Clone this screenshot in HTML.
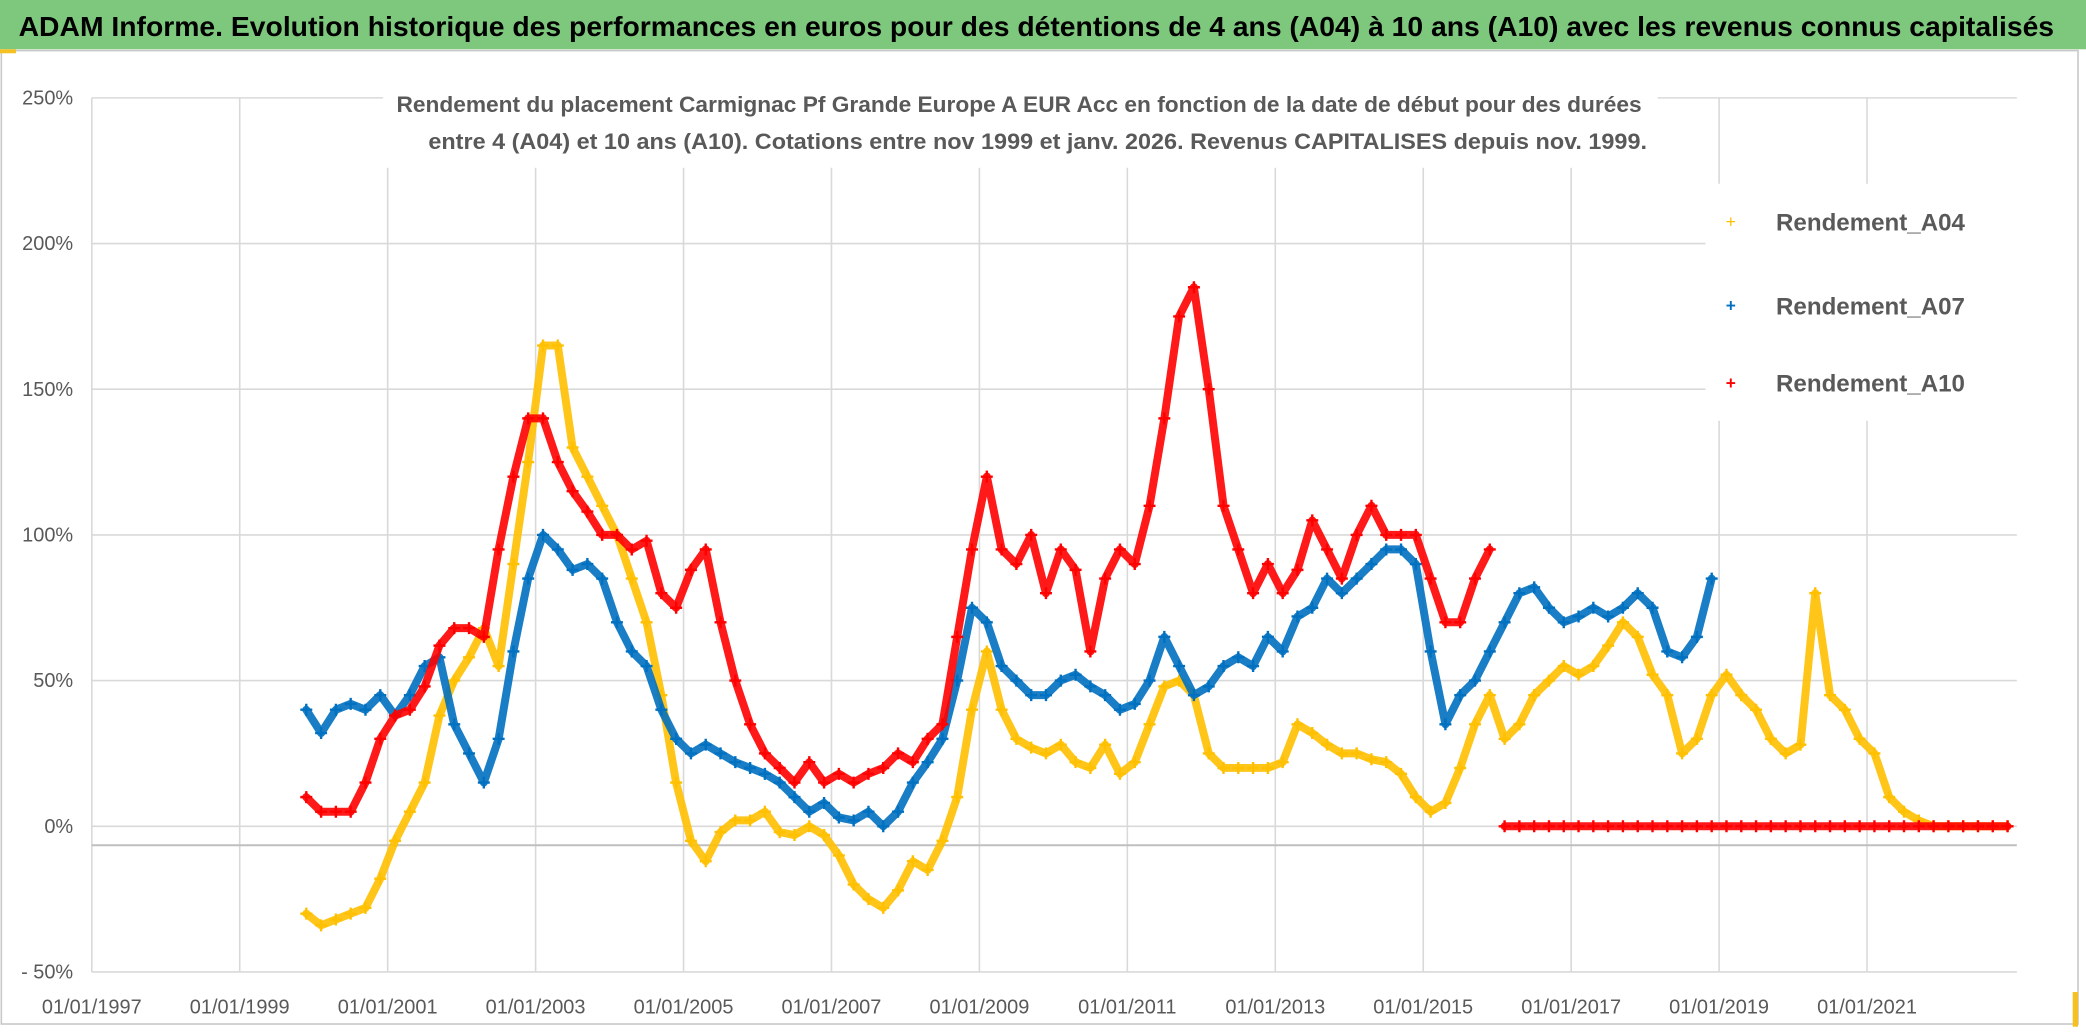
<!DOCTYPE html>
<html><head><meta charset="utf-8"><style>
html,body{margin:0;padding:0;background:#fff;overflow:hidden}
svg{display:block}
text{font-family:"Liberation Sans",sans-serif}
</style></head><body>
<svg id="chart" width="2086" height="1032" viewBox="0 0 1568 775" preserveAspectRatio="none" xmlns="http://www.w3.org/2000/svg">
<rect x="0" y="0" width="1568" height="775" fill="#ffffff"/>
<rect x="0" y="0" width="1568" height="37" fill="#7ec87e"/>
<text x="779" y="27" text-anchor="middle" font-size="21" font-weight="bold" fill="#000" textLength="1530" lengthAdjust="spacingAndGlyphs">ADAM Informe. Evolution historique des performances en euros pour des détentions de 4 ans (A04) à 10 ans (A10) avec les revenus connus capitalisés</text>
<rect x="1" y="38" width="1561" height="731" fill="none" stroke="#c8c8c8" stroke-width="1.2"/>
<rect x="0" y="37" width="12" height="3" fill="#f5c022"/>
<rect x="1558" y="745" width="4" height="26" fill="#f5c022"/>
<g id="grid"></g>
<g id="series"></g>
<g id="axes"></g>
<rect x="288" y="60" width="958" height="66" fill="#fff"/>
<text x="766" y="84" text-anchor="middle" font-size="17" font-weight="bold" fill="#595959" textLength="936" lengthAdjust="spacingAndGlyphs">Rendement du placement Carmignac Pf Grande Europe A EUR Acc en fonction de la date de début pour des durées</text>
<text x="780" y="112" text-anchor="middle" font-size="17" font-weight="bold" fill="#595959" textLength="916" lengthAdjust="spacingAndGlyphs">entre 4 (A04) et 10 ans (A10). Cotations entre nov 1999 et janv. 2026. Revenus CAPITALISES depuis nov. 1999.</text>
<g>
<rect x="1282" y="138" width="266" height="178" fill="#fff"/>
<g><text x="1301" y="171" font-size="13" fill="#ffc000" text-anchor="middle">+</text><text x="1335" y="173" font-size="18" font-weight="bold" fill="#595959" textLength="142" lengthAdjust="spacingAndGlyphs">Rendement_A04</text></g>
<g><text x="1301" y="234" font-size="13" fill="#0070c0" text-anchor="middle" font-weight="bold">+</text><text x="1335" y="236" font-size="18" font-weight="bold" fill="#595959" textLength="142" lengthAdjust="spacingAndGlyphs">Rendement_A07</text></g>
<g><text x="1301" y="292" font-size="13" fill="#ff0000" text-anchor="middle" font-weight="bold">+</text><text x="1335" y="294" font-size="18" font-weight="bold" fill="#595959" textLength="142" lengthAdjust="spacingAndGlyphs">Rendement_A10</text></g>
</g>
</svg>
<script>
const xTickLabels=["01/01/1997","01/01/1999","01/01/2001","01/01/2003","01/01/2005","01/01/2007","01/01/2009","01/01/2011","01/01/2013","01/01/2015","01/01/2017","01/01/2019","01/01/2021"];
const xTickYears=[1997,1999,2001,2003,2005,2007,2009,2011,2013,2015,2017,2019,2021];
const yTicks=[-50,0,50,100,150,200,250];
const yTickLabels=["- 50%","0%","50%","100%","150%","200%","250%"];
const dates=[1999.9,2000.1,2000.3,2000.5,2000.7,2000.9,2001.1,2001.3,2001.5,2001.7,2001.9,2002.1,2002.3,2002.5,2002.7,2002.9,2003.1,2003.3,2003.5,2003.7,2003.9,2004.1,2004.3,2004.5,2004.7,2004.9,2005.1,2005.3,2005.5,2005.7,2005.9,2006.1,2006.3,2006.5,2006.7,2006.9,2007.1,2007.3,2007.5,2007.7,2007.9,2008.1,2008.3,2008.5,2008.7,2008.9,2009.1,2009.3,2009.5,2009.7,2009.9,2010.1,2010.3,2010.5,2010.7,2010.9,2011.1,2011.3,2011.5,2011.7,2011.9,2012.1,2012.3,2012.5,2012.7,2012.9,2013.1,2013.3,2013.5,2013.7,2013.9,2014.1,2014.3,2014.5,2014.7,2014.9,2015.1,2015.3,2015.5,2015.7,2015.9,2016.1,2016.3,2016.5,2016.7,2016.9,2017.1,2017.3,2017.5,2017.7,2017.9,2018.1,2018.3,2018.5,2018.7,2018.9,2019.1,2019.3,2019.5,2019.7,2019.9,2020.1,2020.3,2020.5,2020.7,2020.9,2021.1,2021.3,2021.5,2021.7,2021.9,2022.1,2022.3,2022.5,2022.7,2022.9];
const rendementA04=[-30,-34,-32,-30,-28,-18,-5,5,15,38,50,58,68,55,90,125,165,165,130,120,110,100,85,70,45,15,-5,-12,-2,2,2,5,-2,-3,0,-3,-10,-20,-25,-28,-22,-12,-15,-5,10,40,60,40,30,27,25,28,22,20,28,18,22,35,48,50,45,25,20,20,20,20,22,35,32,28,25,25,23,22,18,10,5,8,20,35,45,30,35,45,50,55,52,55,62,70,65,52,45,25,30,45,52,45,40,30,25,28,80,45,40,30,25,10,5,2,0,0,0,0,0,0];
const rendementA07=[40,32,40,42,40,45,38,45,55,58,35,25,15,30,60,85,100,95,88,90,85,70,60,55,40,30,25,28,25,22,20,18,15,10,5,8,3,2,5,0,5,15,22,30,50,75,70,55,50,45,45,50,52,48,45,40,42,50,65,55,45,48,55,58,55,65,60,72,75,85,80,85,90,95,95,90,60,35,45,50,60,70,80,82,75,70,72,75,72,75,80,75,60,58,65,85];
const rendementA10=[10,5,5,5,15,30,38,40,48,62,68,68,65,95,120,140,140,125,115,108,100,100,95,98,80,75,88,95,70,50,35,25,20,15,22,15,18,15,18,20,25,22,30,35,65,95,120,95,90,100,80,95,88,60,85,95,90,110,140,175,185,150,110,95,80,90,80,88,105,95,85,100,110,100,100,100,85,70,70,85,95,0,0,0,0,0,0,0,0,0,0,0,0,0,0,0,0,0,0,0,0,0,0,0,0,0,0,0,0,0,0,0,0,0,0,0];

const NS="http://www.w3.org/2000/svg";
const X0=69, PXY=55.6, Y0=620.5, PXP=2.188, XR=1516;
function xs(d){return X0+(d-1997)*PXY;}
function ys(v){return Y0-v*PXP;}
function mk(tag,attrs,parent){const e=document.createElementNS(NS,tag);for(const k in attrs)e.setAttribute(k,attrs[k]);parent.appendChild(e);return e;}
const grid=document.getElementById('grid'),axes=document.getElementById('axes'),ser=document.getElementById('series');
yTicks.forEach((v,i)=>{
  const l=mk('line',{x1:X0,x2:XR,y1:ys(v),y2:ys(v),stroke:'#d9d9d9','stroke-width':1.2},grid);
  
  
  const t=mk('text',{x:55,y:ys(v)+5,'text-anchor':'end','font-size':15,fill:'#595959'},axes);
  t.textContent=yTickLabels[i];
  
  
});
xTickYears.forEach((yr,i)=>{
  const l=mk('line',{x1:xs(yr),x2:xs(yr),y1:ys(250),y2:ys(-50),stroke:'#d9d9d9','stroke-width':1.2},grid);
  
  
  const t=mk('text',{x:xs(yr),y:761,'text-anchor':'middle','font-size':15,fill:'#595959'},axes);
  t.textContent=xTickLabels[i];
  
  
});
const ax=mk('line',{x1:X0,x2:XR,y1:ys(-6.5),y2:ys(-6.5),stroke:'#bfbfbf','stroke-width':1.5},grid);



function drawSeries(vals,color,name,w){
  const g=mk('g',{},ser);
  
  
  let segs=[[]];
  vals.forEach((v,i)=>{
    if(i>0 && Math.abs(v-vals[i-1])>60) segs.push([]);
    segs[segs.length-1].push(xs(dates[i]).toFixed(1)+','+ys(v).toFixed(1));
  });
  segs.forEach(s=>{
    const pl=mk('polyline',{points:s.join(' '),fill:'none',stroke:color,'stroke-width':w,'stroke-linejoin':'round','stroke-linecap':'round','stroke-opacity':0.9},g);
    
    
  });
  vals.forEach((v,i)=>{
    const x=xs(dates[i]),y=ys(v);
    const p=mk('path',{d:`M${x-4.5},${y}H${x+4.5}M${x},${y-4.5}V${y+4.5}`,stroke:color,'stroke-width':1.8},g);
    
    
  });
}
drawSeries(rendementA04,'#ffc000','series-a04',6);
drawSeries(rendementA07,'#0070c0','series-a07',6);
drawSeries(rendementA10,'#ff0000','series-a10',6);
</script>
</body></html>
